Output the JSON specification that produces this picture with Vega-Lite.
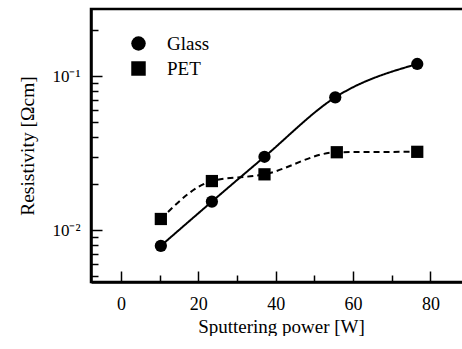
{
  "$schema": "https://vega.github.io/schema/vega-lite/v6.json",
  "width": 380,
  "height": 273,
  "padding": {"left": 17, "top": 9, "right": 0, "bottom": 0},
  "background": "white",
  "config": {
    "font": "Liberation Serif",
    "view": {"stroke": "black", "strokeWidth": 2.5},
    "axis": {"domainColor": "black", "domainWidth": 2.5, "tickColor": "black", "tickWidth": 1.5, "labelColor": "black", "titleColor": "black", "grid": false, "labelFont": "Liberation Serif", "titleFont": "Liberation Serif", "titleFontWeight": "normal"},
    "legend": {"labelFont": "Liberation Serif"}
  },
  "data": {
    "values": [
      {"series": "Glass", "power": 10.3, "rho": 0.0079},
      {"series": "Glass", "power": 23.5, "rho": 0.0153},
      {"series": "Glass", "power": 37.1, "rho": 0.0299},
      {"series": "Glass", "power": 55.4, "rho": 0.0727},
      {"series": "Glass", "power": 76.6, "rho": 0.1197},
      {"series": "PET", "power": 10.3, "rho": 0.0118},
      {"series": "PET", "power": 23.5, "rho": 0.0208},
      {"series": "PET", "power": 37.1, "rho": 0.0230},
      {"series": "PET", "power": 55.8, "rho": 0.0320},
      {"series": "PET", "power": 76.6, "rho": 0.0322}
    ]
  },
  "encoding": {
    "x": {
      "field": "power", "type": "quantitative",
      "scale": {"domain": [-7.76, 90.5], "nice": false, "zero": false},
      "axis": {
        "title": "Sputtering power [W]",
        "values": [0, 10, 20, 30, 40, 50, 60, 70, 80],
        "labelExpr": "datum.value % 20 == 0 ? datum.label : ''",
        "tickSize": {"condition": {"test": "datum.value % 20 == 0", "value": -11}, "value": -7},
        "labelPadding": 24,
        "labelFont": "Liberation Serif",
        "labelFontSize": 18,
        "titleFont": "Liberation Serif",
        "titleFontSize": 19,
        "titlePadding": 4,
        "labelFlush": false
      }
    },
    "y": {
      "field": "rho", "type": "quantitative",
      "scale": {"type": "log", "domain": [0.0046, 0.2723], "nice": false},
      "axis": {
        "title": "Resistivity [Ωcm]",
        "values": [0.005, 0.006, 0.007, 0.008, 0.009, 0.01, 0.02, 0.03, 0.04, 0.05, 0.06, 0.07, 0.08, 0.09, 0.1, 0.2],
        "labelExpr": "datum.value == 0.1 ? '10⁻¹' : (datum.value == 0.01 ? '10⁻²' : '')",
        "tickSize": {"condition": {"test": "datum.value == 0.1 || datum.value == 0.01", "value": -11}, "value": -7},
        "labelPadding": 22,
        "labelFont": "Liberation Serif",
        "labelFontSize": 17,
        "titleFont": "Liberation Serif",
        "titleFontSize": 19.5,
        "titlePadding": 14,
        "labelFlush": false
      }
    }
  },
  "resolve": {"legend": {"shape": "independent", "strokeDash": "independent"}},
  "layer": [
    {
      "mark": {"type": "line", "interpolate": "monotone", "color": "black", "strokeWidth": 2},
      "encoding": {
        "detail": {"field": "series"},
        "strokeDash": {"field": "series", "type": "nominal", "scale": {"domain": ["Glass", "PET"], "range": [[1, 0], [6, 4]]}, "legend": null}
      }
    },
    {
      "mark": {"type": "point", "filled": true, "color": "black", "opacity": 1, "size": 150},
      "encoding": {
        "shape": {
          "field": "series", "type": "nominal",
          "scale": {"domain": ["Glass", "PET"], "range": ["circle", "square"]},
          "legend": {
            "title": null,
            "orient": "none",
            "legendX": 38,
            "legendY": 25,
            "symbolSize": 210,
            "symbolFillColor": "black",
            "symbolStrokeColor": "black",
            "symbolStrokeWidth": 0,
            "labelFont": "Liberation Serif",
            "labelFontSize": 19,
            "labelColor": "black",
            "labelOffset": 19,
            "rowPadding": 5,
            "padding": 0
          }
        }
      }
    }
  ]
}
